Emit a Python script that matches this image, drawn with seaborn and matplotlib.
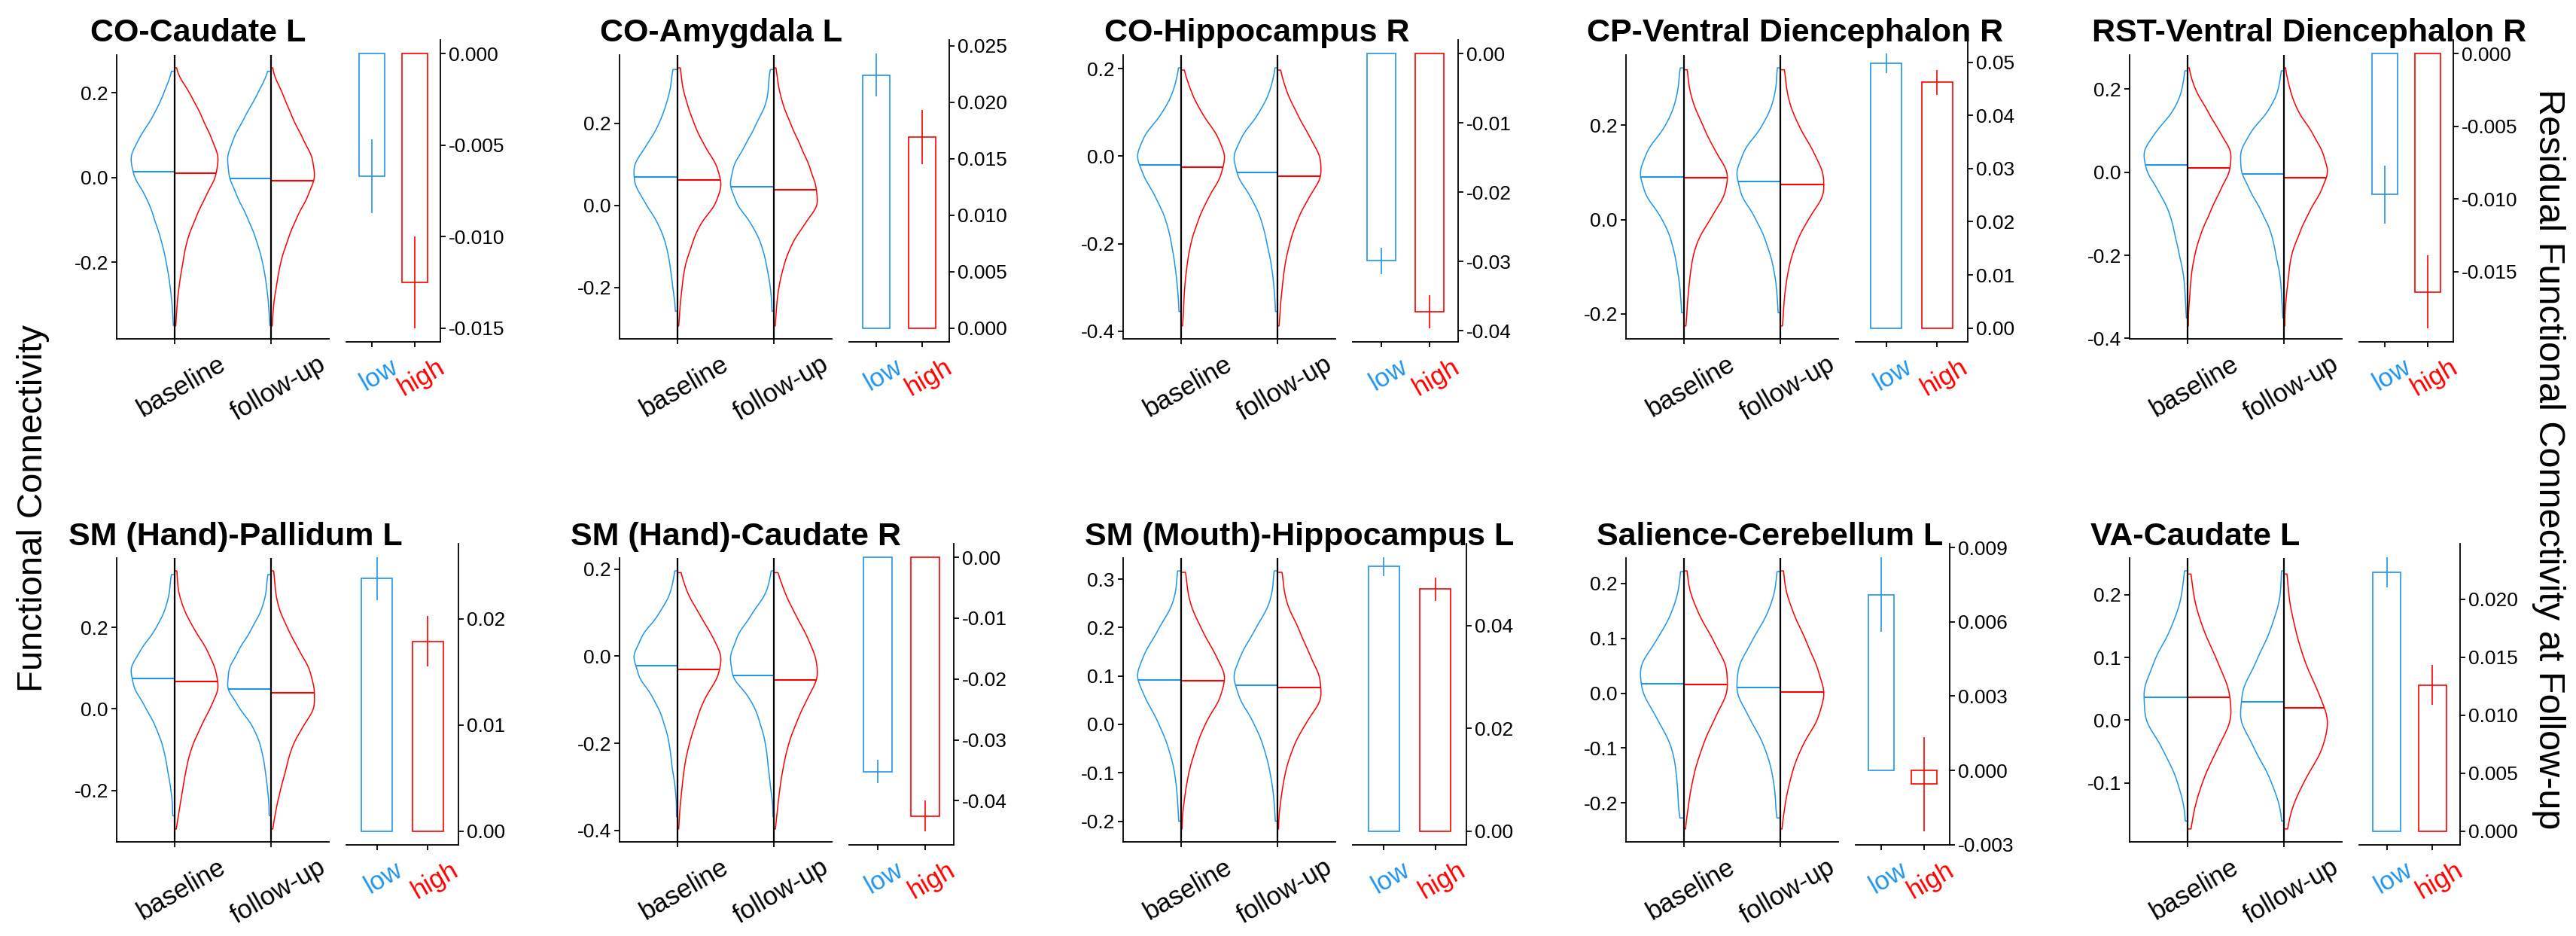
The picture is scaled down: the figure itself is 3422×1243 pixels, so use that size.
import numpy as np
import pandas as pd
import matplotlib
matplotlib.use("Agg")
import matplotlib.pyplot as plt
import matplotlib.transforms as mtransforms
import seaborn as sns
from matplotlib.ticker import MultipleLocator, FuncFormatter

# ---- data ----
TITLES = ["CO-Caudate L", "CO-Amygdala L", "CO-Hippocampus R",
          "CP-Ventral Diencephalon R", "RST-Ventral Diencephalon R",
          "SM (Hand)-Pallidum L", "SM (Hand)-Caudate R",
          "SM (Mouth)-Hippocampus L", "Salience-Cerebellum L", "VA-Caudate L"]
TIMES = ["baseline", "follow-up"]
GROUPS = ["low", "high"]

# functional connectivity levels and how many subjects sit at each level
LOW_LEVELS = [
    [-0.349, -0.30, -0.25, -0.20, -0.15, -0.10, -0.05, 0.0, 0.05, 0.10, 0.15, 0.20, 0.251],
    [-0.258, -0.20, -0.15, -0.10, -0.05, 0.0, 0.05, 0.10, 0.15, 0.20, 0.25, 0.30, 0.331],
    [-0.355, -0.30, -0.25, -0.20, -0.15, -0.10, -0.05, 0.0, 0.05, 0.10, 0.15, 0.202],
    [-0.198, -0.15, -0.10, -0.05, 0.0, 0.05, 0.10, 0.15, 0.20, 0.25, 0.30, 0.322],
    [-0.351, -0.30, -0.25, -0.20, -0.15, -0.10, -0.05, 0.0, 0.05, 0.10, 0.15, 0.20, 0.244],
    [-0.262, -0.20, -0.15, -0.10, -0.05, 0.0, 0.05, 0.10, 0.15, 0.20, 0.25, 0.30, 0.33],
    [-0.369, -0.30, -0.25, -0.20, -0.15, -0.10, -0.05, 0.0, 0.05, 0.10, 0.15, 0.196],
    [-0.20, -0.15, -0.10, -0.05, 0.0, 0.05, 0.10, 0.15, 0.20, 0.25, 0.30, 0.317],
    [-0.2275, -0.20, -0.15, -0.10, -0.05, 0.0, 0.05, 0.10, 0.15, 0.20, 0.2215],
    [-0.161, -0.10, -0.05, 0.0, 0.05, 0.10, 0.15, 0.20, 0.238],
]
HIGH_LEVELS = [
    [-0.35, -0.30, -0.25, -0.20, -0.15, -0.10, -0.05, 0.0, 0.05, 0.10, 0.15, 0.20, 0.259],
    [-0.294, -0.25, -0.20, -0.15, -0.10, -0.05, 0.0, 0.05, 0.10, 0.15, 0.20, 0.25, 0.30, 0.335],
    [-0.388, -0.35, -0.30, -0.25, -0.20, -0.15, -0.10, -0.05, 0.0, 0.05, 0.10, 0.15, 0.197],
    [-0.226, -0.20, -0.15, -0.10, -0.05, 0.0, 0.05, 0.10, 0.15, 0.20, 0.25, 0.30, 0.318],
    [-0.37, -0.30, -0.25, -0.20, -0.15, -0.10, -0.05, 0.0, 0.05, 0.10, 0.15, 0.20, 0.251],
    [-0.295, -0.25, -0.20, -0.15, -0.10, -0.05, 0.0, 0.05, 0.10, 0.15, 0.20, 0.25, 0.30, 0.339],
    [-0.397, -0.35, -0.30, -0.25, -0.20, -0.15, -0.10, -0.05, 0.0, 0.05, 0.10, 0.15, 0.192],
    [-0.216, -0.15, -0.10, -0.05, 0.0, 0.05, 0.10, 0.15, 0.20, 0.25, 0.30, 0.314],
    [-0.2476, -0.20, -0.15, -0.10, -0.05, 0.0, 0.05, 0.10, 0.15, 0.20, 0.223],
    [-0.1736, -0.15, -0.10, -0.05, 0.0, 0.05, 0.10, 0.15, 0.20, 0.233],
]
BASE_LOW = [
    [1, 2, 4, 7, 11, 17, 23, 35, 39, 29, 17, 9, 2],
    [2, 4, 6, 9, 15, 26, 37, 38, 25, 15, 9, 4, 3],
    [2, 3, 5, 8, 12, 20, 31, 39, 31, 15, 6, 2],
    [2, 3, 6, 10, 18, 34, 40, 32, 15, 7, 3, 2],
    [1, 2, 3, 7, 11, 15, 24, 36, 40, 27, 11, 4, 2],
    [2, 3, 6, 9, 15, 24, 35, 39, 28, 15, 7, 3, 2],
    [1, 2, 5, 7, 12, 20, 34, 40, 31, 15, 5, 2],
    [2, 3, 5, 10, 18, 29, 39, 30, 18, 6, 2, 2],
    [2, 4, 6, 9, 21, 35, 38, 21, 9, 2, 2],
    [2, 8, 20, 38, 39, 28, 13, 4, 2],
]
BASE_HIGH = [
    [1, 2, 4, 7, 10, 17, 25, 35, 38, 30, 22, 13, 1],
    [1, 2, 4, 6, 12, 18, 33, 39, 34, 22, 14, 8, 3, 2],
    [1, 2, 3, 5, 8, 14, 22, 34, 39, 31, 17, 8, 2],
    [1, 2, 4, 6, 10, 22, 35, 39, 25, 16, 7, 2, 2],
    [1, 2, 3, 6, 11, 19, 27, 37, 39, 27, 17, 6, 1],
    [1, 4, 7, 10, 14, 22, 31, 40, 36, 28, 16, 7, 2, 2],
    [1, 2, 4, 6, 10, 16, 22, 35, 39, 29, 18, 7, 2],
    [1, 3, 6, 12, 19, 32, 38, 27, 16, 7, 3, 2],
    [1, 4, 8, 15, 25, 38, 37, 24, 11, 2, 2],
    [1, 4, 12, 24, 39, 36, 24, 12, 4, 2],
]
FOLLOW_LOW = [
    [1, 2, 4, 7, 12, 19, 28, 36, 38, 31, 21, 11, 2],
    [2, 3, 6, 10, 18, 32, 39, 35, 24, 15, 6, 4, 2],
    [2, 3, 5, 9, 13, 21, 34, 39, 30, 15, 6, 2],
    [2, 3, 6, 12, 21, 35, 40, 32, 15, 6, 2, 2],
    [1, 2, 3, 7, 10, 18, 28, 37, 38, 28, 12, 4, 2],
    [2, 3, 5, 8, 14, 27, 39, 37, 27, 16, 7, 3, 2],
    [1, 3, 5, 7, 12, 19, 36, 38, 31, 18, 5, 2],
    [2, 3, 6, 11, 19, 32, 39, 30, 18, 6, 2, 2],
    [2, 3, 6, 12, 24, 37, 35, 22, 9, 2, 2],
    [2, 10, 24, 39, 36, 22, 10, 2, 2],
]
FOLLOW_HIGH = [
    [1, 2, 5, 8, 14, 21, 31, 39, 36, 26, 17, 10, 1],
    [1, 2, 4, 8, 14, 25, 39, 36, 30, 22, 14, 7, 3, 1],
    [1, 2, 4, 6, 10, 16, 25, 38, 37, 26, 16, 7, 2],
    [1, 2, 4, 7, 13, 23, 38, 37, 27, 15, 7, 3, 2],
    [1, 2, 4, 6, 13, 21, 32, 40, 34, 24, 11, 5, 1],
    [1, 4, 8, 13, 17, 26, 39, 38, 34, 23, 14, 6, 3, 2],
    [1, 3, 5, 8, 12, 19, 27, 38, 35, 27, 17, 8, 2],
    [1, 3, 6, 12, 22, 37, 35, 25, 17, 7, 3, 2],
    [1, 4, 9, 17, 32, 39, 31, 21, 10, 2, 2],
    [1, 4, 16, 33, 40, 28, 16, 9, 3, 2],
]
# medians: baseline-low, baseline-high, follow-up-low, follow-up-high
MEDIANS = [
    [0.014, 0.011, -0.002, -0.008],
    [0.069, 0.061, 0.045, 0.038],
    [-0.019, -0.025, -0.037, -0.046],
    [0.091, 0.088, 0.081, 0.075],
    [0.017, 0.010, -0.004, -0.013],
    [0.075, 0.067, 0.049, 0.040],
    [-0.022, -0.030, -0.045, -0.054],
    [0.092, 0.090, 0.081, 0.076],
    [0.0174, 0.0158, 0.011, 0.0027],
    [0.036, 0.036, 0.029, 0.0195],
]
# residual FC at follow-up (mean and error)
BAR_LOW = [-0.0067, 0.0224, -0.0299, 0.0498, -0.0097, 0.0238, -0.0352, 0.0515, 0.0071, 0.0223]
ERR_LOW = [0.0020, 0.0019, 0.0019, 0.0018, 0.0020, 0.0020, 0.0019, 0.0018, 0.0015, 0.0013]
BAR_HIGH = [-0.0125, 0.0169, -0.0372, 0.0462, -0.0164, 0.0179, -0.0425, 0.0471, -0.00055, 0.0126]
ERR_HIGH = [0.0025, 0.0024, 0.0024, 0.0023, 0.0025, 0.0024, 0.0025, 0.0023, 0.0019, 0.0017]

VIOLIN_STEP = [0.2, 0.2, 0.2, 0.2, 0.2, 0.2, 0.2, 0.1, 0.1, 0.1]
BAR_STEP = [0.005, 0.005, 0.01, 0.01, 0.005, 0.01, 0.01, 0.02, 0.003, 0.005]
BAR_DEC = [3, 3, 2, 2, 3, 2, 2, 2, 3, 3]

# ---- style / layout ----
BLUE = "#2394E8"
RED = "#FF0000"
W, H, DPI = 3423, 1243, 100
VIOLIN_LEFT = [155, 823, 1492, 2160, 2829]
VIOLIN_W = 282
GAP = 23
BAR_WIDTH = [125, 133, 140, 149, 125, 149, 139, 151, 125, 134]
TITLE_X = [120, 797, 1467, 2108, 2779, 91, 758, 1441, 2121, 2777]
ROWS = [dict(vtop=73, vbot=450, btop=53, bbot=454, title=55),
        dict(vtop=741, vbot=1118, btop=722, bbot=1122, title=724)]
KDE_BW = 0.028  # smoothing width in FC units
LABEL_SHIFT = 9  # px, x tick labels sit a little right of their tick

sns.set_style("ticks", {"axes.edgecolor": "black", "xtick.color": "black",
                        "ytick.color": "black", "text.color": "black"})
plt.rcParams["font.family"] = ["Liberation Sans", "DejaVu Sans"]
plt.rcParams["axes.unicode_minus"] = False


def px_rect(left, top, width, bottom):
    return [left / W, 1 - bottom / H, width / W, (bottom - top) / H]


def fmt(dec):
    return FuncFormatter(lambda v, p: f"{round(v, dec) + 0.0:.{dec}f}")


def style_ticks(ax):
    ax.tick_params(axis="both", length=5, width=1.3, direction="out")
    ax.tick_params(axis="y", labelsize=19, pad=3)
    ax.tick_params(axis="x", labelsize=25, labelrotation=30, pad=7)
    for s in ax.spines.values():
        s.set_linewidth(1.3)
    ax.set_xlabel("")
    ax.set_ylabel("")


def draw_violins(ax, i):
    halves = [("baseline", "low", LOW_LEVELS[i], BASE_LOW[i]),
              ("baseline", "high", HIGH_LEVELS[i], BASE_HIGH[i]),
              ("follow-up", "low", LOW_LEVELS[i], FOLLOW_LOW[i]),
              ("follow-up", "high", HIGH_LEVELS[i], FOLLOW_HIGH[i])]
    df = pd.concat([pd.DataFrame({"time": t, "group": g, "fc": np.repeat(lv, ct)})
                    for t, g, lv, ct in halves], ignore_index=True)
    # scott factor per half, so the kernel is about KDE_BW wide everywhere
    scott = np.mean([np.std(np.repeat(lv, ct), ddof=1) * np.sum(ct) ** -0.2
                     for _, _, lv, ct in halves])
    sns.violinplot(data=df, x="time", y="fc", hue="group", order=TIMES,
                   hue_order=GROUPS, split=True, inner=None, fill=False,
                   palette=[BLUE, RED], saturation=1, cut=0, width=0.9,
                   density_norm="width", bw_adjust=KDE_BW / scott, linewidth=1.1,
                   legend=False, ax=ax)
    meds = {(t, g): m for (t, g, _, _), m in zip(halves, MEDIANS[i])}
    for coll in list(ax.collections):
        verts = coll.get_paths()[0].vertices
        xm = verts[:, 0].mean()
        pos = int(round(xm))
        left = xm < pos
        outer = verts[np.abs(verts[:, 0] - pos) > 1e-6]
        order = np.argsort(outer[:, 1])
        m = meds[(TIMES[pos], "low" if left else "high")]
        xo = np.interp(m, outer[order, 1], outer[order, 0])
        ax.plot([xo, pos], [m, m], color=BLUE if left else RED, lw=1.5,
                solid_capstyle="butt", zorder=4)
    for pos in range(len(TIMES)):
        ax.axvline(pos, color="black", lw=1.6, zorder=5)
    vals = LOW_LEVELS[i] + HIGH_LEVELS[i]
    lo, hi = min(vals), max(vals)
    pad = 0.05 * (hi - lo)
    ax.set_ylim(lo - pad, hi + pad)
    ax.set_xlim(-0.6, 1.6)
    ax.yaxis.set_major_locator(MultipleLocator(VIOLIN_STEP[i]))
    ax.yaxis.set_major_formatter(fmt(1))
    sns.despine(ax=ax)
    style_ticks(ax)


def draw_bars(ax, i):
    means = [BAR_LOW[i], BAR_HIGH[i]]
    errs = [ERR_LOW[i], ERR_HIGH[i]]
    sns.barplot(x=GROUPS, y=means, hue=GROUPS, palette=[BLUE, RED], saturation=1,
                fill=False, width=0.6, linewidth=1.2, errorbar=None,
                legend=False, ax=ax)
    lows = [m - e for m, e in zip(means, errs)]
    highs = [m + e for m, e in zip(means, errs)]
    ax.vlines(range(len(GROUPS)), lows, highs, colors=[BLUE, RED], lw=1.2)
    lo, hi = min(0, min(lows)), max(0, max(highs))
    pad = 0.05 * (hi - lo)
    ax.set_ylim(lo - pad, hi + pad)
    ax.set_xlim(-0.6, 1.6)
    ax.yaxis.set_major_locator(MultipleLocator(BAR_STEP[i]))
    ax.yaxis.set_major_formatter(fmt(BAR_DEC[i]))
    ax.yaxis.tick_right()
    ax.spines["left"].set_visible(False)
    ax.spines["top"].set_visible(False)
    ax.spines["right"].set_visible(True)
    style_ticks(ax)
    for lbl, c in zip(ax.get_xticklabels(), [BLUE, RED]):
        lbl.set_color(c)


fig = plt.figure(figsize=(W / DPI, H / DPI), dpi=DPI)
shift = mtransforms.ScaledTranslation(LABEL_SHIFT / DPI, 0, fig.dpi_scale_trans)

for i, title in enumerate(TITLES):
    rt = ROWS[i // 5]
    vleft = VIOLIN_LEFT[i % 5]
    vax = fig.add_axes(px_rect(vleft, rt["vtop"], VIOLIN_W, rt["vbot"]))
    bax = fig.add_axes(px_rect(vleft + VIOLIN_W + GAP, rt["btop"], BAR_WIDTH[i], rt["bbot"]))
    draw_violins(vax, i)
    draw_bars(bax, i)
    for ax in (vax, bax):
        for lbl in ax.get_xticklabels():
            lbl.set_transform(lbl.get_transform() + shift)
    fig.text(TITLE_X[i] / W, 1 - rt["title"] / H, title, fontsize=31,
             fontweight="bold", ha="left", va="baseline")

fig.text(44 / W, 1 - 675 / H, "Functional Connectivity", rotation=90,
         ha="center", va="center", fontsize=34)
fig.text(3386 / W, 1 - 610 / H, "Residual Functional Connectivity at Follow-up",
         rotation=270, ha="center", va="center", fontsize=35)

fig.savefig("out.png", dpi=DPI, facecolor="white")
